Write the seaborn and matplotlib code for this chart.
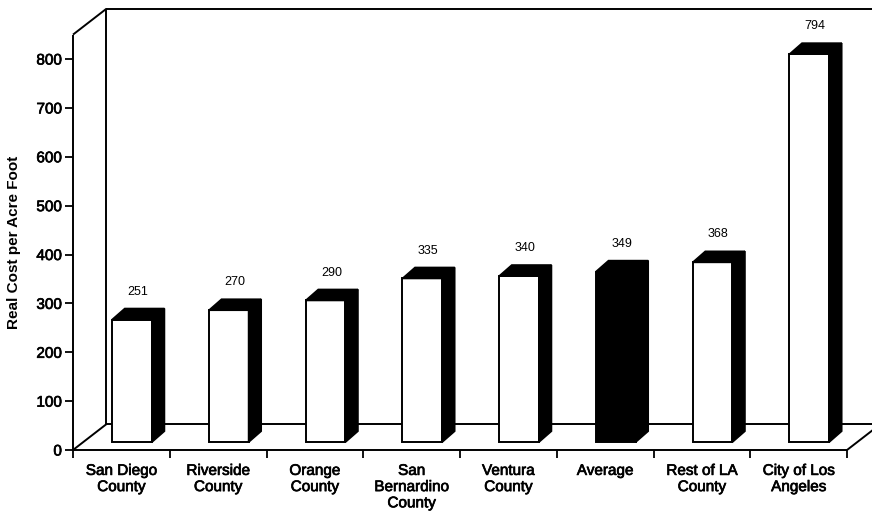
import matplotlib
matplotlib.use("Agg")
import matplotlib.pyplot as plt
import matplotlib.patheffects as pe
from matplotlib.patches import Polygon
import seaborn as sns
import pandas as pd

# Categories and real cost per acre foot
regions = ["San Diego\nCounty", "Riverside\nCounty", "Orange\nCounty",
           "San\nBernardino\nCounty", "Ventura\nCounty", "Average",
           "Rest of LA\nCounty", "City of Los\nAngeles"]
cost = [251, 270, 290, 335, 340, 349, 368, 794]
y_ticks = [0, 100, 200, 300, 400, 500, 600, 700, 800]

# Pseudo-3D geometry (data units: categories on x, cost on y)
WALL_DX, WALL_DY = 0.346, 53      # depth of the floor / back wall
FRONT_TOP = 850                   # height of the front vertical axis
BAR_DX, BAR_DY = 0.13, 22.5       # depth of each bar
BAR_SHIFT, FLOOR_LIFT = 0.11, 16  # bars stand a little behind the front edge

sns.set_theme(style="white")
plt.rcParams["font.family"] = ["Liberation Sans", "DejaVu Sans"]

# slightly heavier strokes for the axis text
heavy = [pe.withStroke(linewidth=0.5, foreground="black")]

fig = plt.figure(figsize=(8.72, 5.14), dpi=100)
ax = fig.add_axes([73 / 872, 64 / 514, 807.5 / 872, 441.3 / 514])

df = pd.DataFrame({"region": regions, "cost": cost})
face = {r: ("black" if r == "Average" else "white") for r in regions}
sns.barplot(data=df, x="region", y="cost", hue="region", palette=face,
            legend=False, width=0.41, edgecolor="black", linewidth=1.4,
            saturation=1, ax=ax, zorder=3)

ax.set_xlim(-0.5, 7.5 + WALL_DX)
ax.set_ylim(0, FRONT_TOP + WALL_DY)
for s in ax.spines.values():
    s.set_visible(False)

# Frame: front axis, floor and back wall
line_kw = dict(color="black", lw=1.4, clip_on=False, zorder=1, solid_capstyle="butt")
x0, x1 = -0.5, 7.5
bx0, bx1 = x0 + WALL_DX, x1 + WALL_DX + 0.5
ax.plot([x0, x0], [0, FRONT_TOP], **line_kw)
ax.plot([x0, bx0], [FRONT_TOP, FRONT_TOP + WALL_DY], **line_kw)
ax.plot([bx0, bx0], [WALL_DY, FRONT_TOP + WALL_DY], **line_kw)
ax.plot([bx0, bx1], [FRONT_TOP + WALL_DY, FRONT_TOP + WALL_DY], **line_kw)
ax.plot([x0, x1], [0, 0], **line_kw)
ax.plot([x0, bx0], [0, WALL_DY], **line_kw)
ax.plot([bx0, bx1], [WALL_DY, WALL_DY], **line_kw)
ax.plot([x1, x1 + WALL_DX], [0, WALL_DY], **line_kw)

# Shift front faces back, add dark tops and sides, and value labels
for p, v in zip(ax.patches, cost):
    p.set_x(p.get_x() + BAR_SHIFT)
    p.set_y(FLOOR_LIFT)
    l = p.get_x()
    r = l + p.get_width()
    b = FLOOR_LIFT
    t = b + v
    top = Polygon([(l, t), (r, t), (r + BAR_DX, t + BAR_DY), (l + BAR_DX, t + BAR_DY)],
                  closed=True, facecolor="black", edgecolor="black", lw=1.2, zorder=3)
    side = Polygon([(r, b), (r + BAR_DX, b + BAR_DY), (r + BAR_DX, t + BAR_DY), (r, t)],
                   closed=True, facecolor="black", edgecolor="black", lw=1.2, zorder=3)
    ax.add_patch(top)
    ax.add_patch(side)
    ax.text((l + r) / 2 + 0.06, t + 57, str(v), ha="center", va="center",
            fontsize=9, color="black")

# Axes ticks and labels
ax.set_yticks(y_ticks)
ax.set_yticklabels([str(t) for t in y_ticks])
ax.tick_params(axis="y", left=True, direction="out", length=6, width=1.3,
               color="black", labelsize=11, pad=2, labelcolor="black")
ax.set_xticks(range(len(regions)))
ax.set_xticklabels(regions)
ax.set_xticks([k - 0.5 for k in range(len(regions) + 1)], minor=True)
ax.tick_params(axis="x", which="major", bottom=False, length=0, pad=10,
               labelsize=11, labelcolor="black")
ax.tick_params(axis="x", which="minor", bottom=True, direction="out",
               length=6, width=1.3, color="black")
for lbl in ax.get_xticklabels() + ax.get_yticklabels():
    lbl.set_path_effects(heavy)
ax.set_xlabel("")
ax.set_ylabel("Real Cost per Acre Foot", fontsize=11, fontweight="bold", color="black")
ax.yaxis.set_label_coords(-0.064, 425 / 903)

fig.savefig("out.png", dpi=100)
